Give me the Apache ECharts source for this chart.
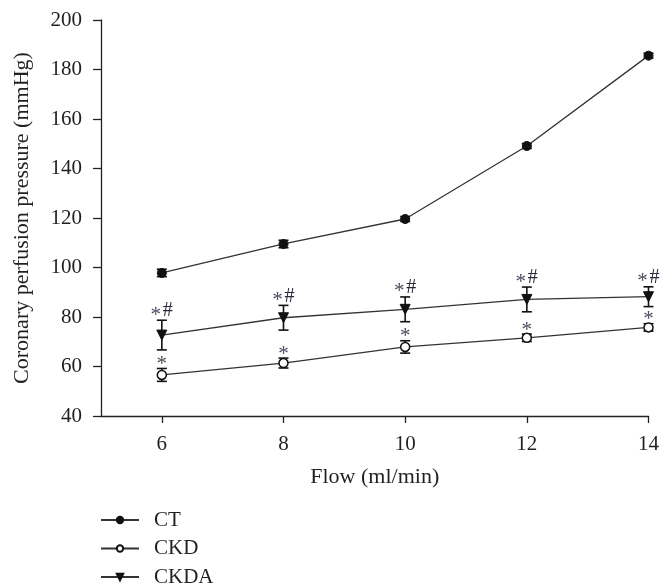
<!DOCTYPE html>
<html>
<head>
<meta charset="utf-8">
<script src="https://cdn.jsdelivr.net/npm/echarts@6/dist/echarts.min.js"></script>
<style>html,body{margin:0;padding:0;background:#fff}#c{width:662px;height:587px}</style>
</head>
<body>
<div id="c"></div>
<script>
const flow = [6, 8, 10, 12, 14];
const xTicks = [6, 8, 10, 12, 14];
const ctMean = [97.8, 109.5, 119.6, 149.1, 185.6];
const ctErr = [1.5, 1.5, 1.0, 1.0, 1.0];
const ckdMean = [56.6, 61.4, 67.9, 71.6, 75.8];
const ckdErr = [2.6, 2.0, 2.5, 1.5, 1.5];
const ckdaMean = [72.7, 79.7, 83.1, 87.1, 88.2];
const ckdaErr = [6.0, 5.0, 5.0, 5.0, 4.0];
const ckdMarks = ['*', '*', '*', '*', '*'];
const ckdaMarks = ['*#', '*#', '*#', '*#', '*#'];
const ctMarks = ['', '', '', '', ''];

const FONT = '"Liberation Serif", "Times New Roman", serif';
const TXT = '#231f20';

function lineData(mean) { return flow.map((f, i) => [f, mean[i]]); }
function errData(mean, err, marks) { return flow.map((f, i) => [f, mean[i], err[i], marks[i]]); }

function errRender(params, api) {
  const x = api.value(0), y = api.value(1), e = api.value(2);
  const mark = api.value(3);
  const top = api.coord([x, y + e]);
  const bot = api.coord([x, y - e]);
  const w = 5;
  const st = { stroke: '#111', lineWidth: 1.6 };
  const children = [
    { type: 'line', shape: { x1: top[0], y1: top[1], x2: bot[0], y2: bot[1] }, style: st },
    { type: 'line', shape: { x1: top[0] - w, y1: top[1], x2: top[0] + w, y2: top[1] }, style: st },
    { type: 'line', shape: { x1: bot[0] - w, y1: bot[1], x2: bot[0] + w, y2: bot[1] }, style: st }
  ];
  if (mark === '*#') {
    children.push({ type: 'text', x: top[0] - 6, y: top[1] - 5,
      style: { text: '*', fill: '#4a4d60', font: '21px ' + FONT, textAlign: 'center', textVerticalAlign: 'middle' } });
    children.push({ type: 'text', x: top[0] + 6, y: top[1] - 9,
      style: { text: '#', fill: '#2a2a3a', font: '20px ' + FONT, textAlign: 'center', textVerticalAlign: 'middle' } });
  } else if (mark === '*') {
    children.push({ type: 'text', x: top[0], y: top[1] - 4,
      style: { text: '*', fill: '#4a4d60', font: '21px ' + FONT, textAlign: 'center', textVerticalAlign: 'middle' } });
  }
  return { type: 'group', children };
}

const lineStyle = { color: '#333', width: 1.3 };
const chart = echarts.init(document.getElementById('c'), null, { renderer: 'canvas' });
chart.setOption({
  animation: false,
  backgroundColor: '#fff',
  textStyle: { fontFamily: FONT, color: TXT },
  grid: { left: 101, right: 12, top: 20, bottom: 171, containLabel: false },
  xAxis: {
    type: 'value', min: 5, max: 14,
    name: 'Flow (ml/min)', nameLocation: 'middle', nameGap: 50,
    nameTextStyle: { fontFamily: FONT, fontSize: 22, color: TXT },
    axisLine: { onZero: false, lineStyle: { color: '#222', width: 1.3 } },
    axisTick: { customValues: xTicks, length: 7, lineStyle: { color: '#222', width: 1.3 } },
    axisLabel: { customValues: xTicks, fontFamily: FONT, fontSize: 21, color: TXT, margin: 18 },
    splitLine: { show: false }
  },
  yAxis: {
    type: 'value', min: 40, max: 200, interval: 20,
    name: 'Coronary perfusion pressure (mmHg)', nameLocation: 'middle', nameGap: 68,
    nameTextStyle: { fontFamily: FONT, fontSize: 22, color: TXT },
    axisLine: { show: true, lineStyle: { color: '#222', width: 1.3 } },
    axisTick: { show: true, length: 8, lineStyle: { color: '#222', width: 1.3 } },
    axisLabel: { fontFamily: FONT, fontSize: 21, color: TXT, margin: 19 },
    splitLine: { show: false }
  },
  legend: {
    orient: 'vertical', left: 100, top: 509, height: 90, padding: 0,
    itemWidth: 38, itemHeight: 8, itemGap: 6.5,
    textStyle: { fontFamily: FONT, fontSize: 21, color: TXT, lineHeight: 22, padding: [0, 0, 0, 10] },
    data: ['CT', 'CKD', 'CKDA']
  },
  series: [
    { type: 'custom', name: 'ctErr', renderItem: errRender, data: errData(ctMean, ctErr, ctMarks), z: 1, silent: true },
    { type: 'custom', name: 'ckdErr', renderItem: errRender, data: errData(ckdMean, ckdErr, ckdMarks), z: 1, silent: true },
    { type: 'custom', name: 'ckdaErr', renderItem: errRender, data: errData(ckdaMean, ckdaErr, ckdaMarks), z: 1, silent: true },
    { type: 'line', name: 'CT', data: lineData(ctMean), symbol: 'circle', symbolSize: 9,
      itemStyle: { color: '#111', borderColor: '#111', borderWidth: 1 }, lineStyle, z: 3 },
    { type: 'line', name: 'CKD', data: lineData(ckdMean), symbol: 'circle', symbolSize: 9,
      itemStyle: { color: '#fff', borderColor: '#111', borderWidth: 1.5 }, lineStyle, z: 3 },
    { type: 'line', name: 'CKDA', data: lineData(ckdaMean), symbol: 'triangle', symbolRotate: 180, symbolSize: 10,
      itemStyle: { color: '#111', borderColor: '#111', borderWidth: 1 }, lineStyle, z: 3 }
  ]
});
</script>
</body>
</html>
